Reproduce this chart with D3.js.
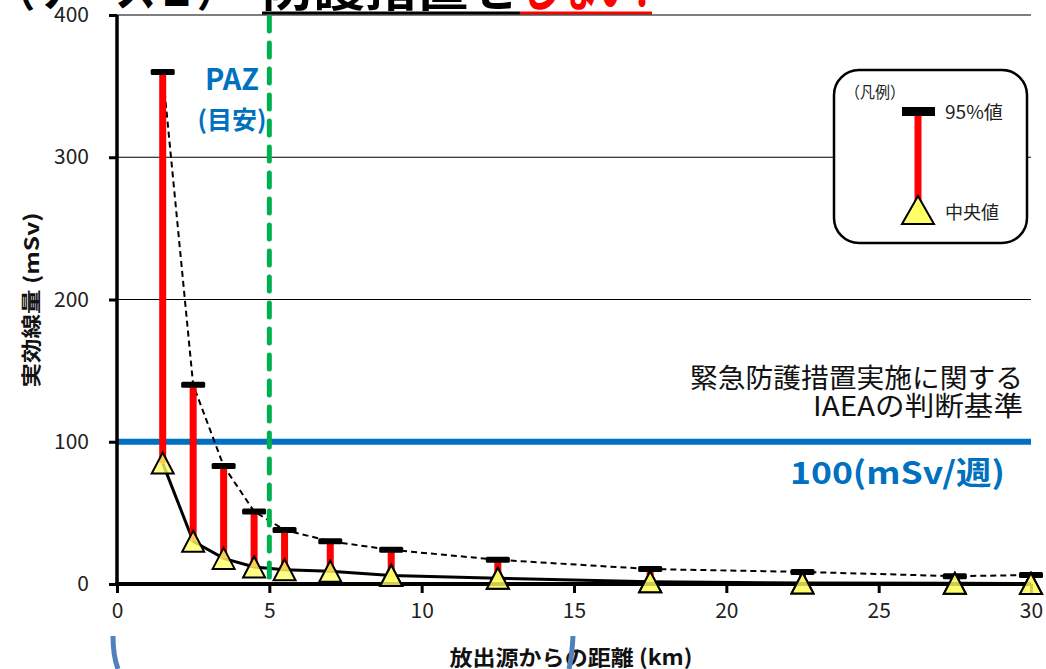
<!DOCTYPE html>
<html>
<head>
<meta charset="utf-8">
<script src="https://cdn.jsdelivr.net/npm/d3@7"></script>
<style>
  html, body { margin: 0; padding: 0; background: #fff; }
  svg { display: block; }
  text { font-family: "Noto Sans CJK JP", "Noto Sans", sans-serif; }
</style>
</head>
<body>
<svg id="chart" width="1046" height="669"></svg>
<script>
// ---- data ----
const distances = [1.5, 2.5, 3.5, 4.5, 5.5, 7, 9, 12.5, 17.5, 22.5, 27.5, 30];
const medianValues = [85, 30, 18, 12, 10, 9, 6, 4, 1.5, 0.7, 0.5, 0.4];
const p95Values = [360, 140, 83, 51, 38, 30, 24, 17, 10.5, 8.5, 5.5, 6.3];
const xTicks = [0, 5, 10, 15, 20, 25, 30];
const yTicks = [0, 100, 200, 300, 400];
const criterion = 100;
const pazDistance = 5;

const data = distances.map((d, i) => ({ x: d, med: medianValues[i], p95: p95Values[i] }));

const svg = d3.select("#chart");
const x = d3.scaleLinear().domain([0, 30]).range([117, 1031]);
const y = d3.scaleLinear().domain([0, 400]).range([584, 15]);

// ---- title (cut off at top) ----
const title = svg.append("g");
title.append("text").attr("x", -6).attr("y", 6).attr("font-size", 50).attr("font-weight", 700)
  .attr("textLength", 244).attr("lengthAdjust", "spacingAndGlyphs").attr("fill", "#000").text("（ケース１）");
title.append("text").attr("x", 262).attr("y", 6).attr("font-size", 50).attr("font-weight", 700)
  .attr("textLength", 258).attr("lengthAdjust", "spacingAndGlyphs").attr("fill", "#000").text("防護措置を");
title.append("text").attr("x", 521).attr("y", 6).attr("font-size", 50).attr("font-weight", 700)
  .attr("textLength", 128).attr("lengthAdjust", "spacingAndGlyphs").attr("fill", "#FF0000").text("しない!");
title.append("rect").attr("x", 262).attr("y", 11.5).attr("width", 258).attr("height", 3).attr("fill", "#000");
title.append("rect").attr("x", 520).attr("y", 11.5).attr("width", 132).attr("height", 3).attr("fill", "#FF0000");

// ---- gridlines ----
svg.append("g").selectAll("line").data(yTicks.filter(t => t > 0)).join("line")
  .attr("x1", x(0)).attr("x2", x(30)).attr("y1", d => y(d)).attr("y2", d => y(d))
  .attr("stroke", "#000").attr("stroke-width", 1.2);

// ---- criterion line ----
svg.append("line").attr("x1", x(0)).attr("x2", x(30)).attr("y1", y(criterion)).attr("y2", y(criterion))
  .attr("stroke", "#0070C0").attr("stroke-width", 6);

// ---- lines ----
svg.append("path").datum(data)
  .attr("d", d3.line().x(d => x(d.x)).y(d => y(d.p95)))
  .attr("fill", "none").attr("stroke", "#000").attr("stroke-width", 2).attr("stroke-dasharray", "6,4");
svg.append("path").datum(data)
  .attr("d", d3.line().x(d => x(d.x)).y(d => y(d.med)))
  .attr("fill", "none").attr("stroke", "#000").attr("stroke-width", 3);

// ---- red range bars ----
svg.append("g").selectAll("line").data(data).join("line")
  .attr("x1", d => x(d.x)).attr("x2", d => x(d.x))
  .attr("y1", d => y(d.med)).attr("y2", d => y(d.p95))
  .attr("stroke", "#FF0000").attr("stroke-width", 7);

// ---- caps ----
svg.append("g").selectAll("rect").data(data).join("rect")
  .attr("x", d => x(d.x) - 12).attr("y", d => y(d.p95) - 3)
  .attr("width", 24).attr("height", 6).attr("rx", 1.5).attr("fill", "#000");

// ---- green PAZ dashed line ----
svg.append("line").attr("x1", x(pazDistance)).attr("x2", x(pazDistance)).attr("y1", y(400) + 2).attr("y2", y(0))
  .attr("stroke", "#00B050").attr("stroke-width", 5).attr("stroke-dasharray", "14,12").attr("stroke-linecap", "round");

// ---- median triangles ----
const tri = (cx, cy, w, h) => `M${cx},${cy - h / 2}L${cx + w / 2},${cy + h / 2}L${cx - w / 2},${cy + h / 2}Z`;
svg.append("g").selectAll("path").data(data).join("path")
  .attr("d", d => tri(x(d.x), y(d.med), 22, 21))
  .attr("fill", "#FFFF66").attr("fill-opacity", 0.8)
  .attr("stroke", "#000").attr("stroke-width", 2).attr("stroke-linejoin", "miter");

// ---- axes ----
const yAxis = svg.append("g").attr("transform", `translate(${x(0)},0)`)
  .call(d3.axisLeft(y).tickValues(yTicks).tickSize(8).tickPadding(20));
yAxis.select(".domain").remove();
yAxis.selectAll(".tick line").attr("stroke", "#000").attr("stroke-width", 3);
yAxis.selectAll(".tick text").attr("font-size", 21).attr("fill", "#222")
  .attr("font-family", "'Noto Sans', sans-serif");
svg.append("line").attr("x1", x(0)).attr("x2", x(0)).attr("y1", y(400)).attr("y2", y(0) + 2)
  .attr("stroke", "#000").attr("stroke-width", 3.5);

const xAxis = svg.append("g").attr("transform", `translate(0,${y(0)})`)
  .call(d3.axisBottom(x).tickValues(xTicks).tickSize(9).tickPadding(10));
xAxis.select(".domain").remove();
xAxis.selectAll(".tick line").attr("stroke", "#000").attr("stroke-width", 3);
xAxis.selectAll(".tick text").attr("font-size", 21).attr("fill", "#222")
  .attr("font-family", "'Noto Sans', sans-serif");
svg.append("line").attr("x1", x(0) - 2).attr("x2", x(30)).attr("y1", y(0)).attr("y2", y(0))
  .attr("stroke", "#000").attr("stroke-width", 4);

// re-draw triangles above axis line near zero
svg.append("g").selectAll("path").data(data.filter(d => d.med < 8)).join("path")
  .attr("d", d => tri(x(d.x), y(d.med), 22, 21))
  .attr("fill", "#FFFF66").attr("fill-opacity", 0.8)
  .attr("stroke", "#000").attr("stroke-width", 2);

// ---- axis titles ----
svg.append("text").attr("x", 571).attr("y", 665).attr("text-anchor", "middle")
  .attr("font-size", 21).attr("font-weight", 700).attr("fill", "#111")
  .attr("textLength", 243).attr("lengthAdjust", "spacingAndGlyphs").text("放出源からの距離 (km)");
svg.append("text").attr("transform", "translate(39,300) rotate(-90)").attr("text-anchor", "middle")
  .attr("font-size", 20).attr("font-weight", 700).attr("fill", "#111")
  .attr("textLength", 175).attr("lengthAdjust", "spacingAndGlyphs").text("実効線量 (mSv)");

// ---- PAZ label ----
svg.append("text").attr("x", 232).attr("y", 90).attr("text-anchor", "middle")
  .attr("font-size", 29).attr("font-weight", 700).attr("fill", "#0070C0").text("PAZ");
svg.append("text").attr("x", 232).attr("y", 129).attr("text-anchor", "middle")
  .attr("font-size", 25).attr("font-weight", 700).attr("fill", "#0070C0").text("(目安)");

// ---- criterion labels ----
svg.append("text").attr("x", 1023).attr("y", 388).attr("text-anchor", "end")
  .attr("font-size", 27).attr("fill", "#111")
  .attr("textLength", 333).attr("lengthAdjust", "spacingAndGlyphs").text("緊急防護措置実施に関する");
svg.append("text").attr("x", 1023).attr("y", 416).attr("text-anchor", "end")
  .attr("font-size", 27).attr("fill", "#111")
  .attr("textLength", 210).attr("lengthAdjust", "spacingAndGlyphs").text("IAEAの判断基準");
svg.append("text").attr("x", 1005).attr("y", 484).attr("text-anchor", "end")
  .attr("font-size", 31).attr("font-weight", 700).attr("fill", "#0070C0")
  .attr("textLength", 215).attr("lengthAdjust", "spacingAndGlyphs").text("100(mSv/週)");

// ---- legend ----
const lg = svg.append("g");
lg.append("rect").attr("x", 834).attr("y", 70).attr("width", 193).attr("height", 173).attr("rx", 25)
  .attr("fill", "#fff").attr("stroke", "#000").attr("stroke-width", 2.5);
lg.append("text").attr("x", 845).attr("y", 98).attr("font-size", 16).attr("fill", "#222")
  .attr("textLength", 60).attr("lengthAdjust", "spacingAndGlyphs").text("（凡例）");
lg.append("line").attr("x1", 918).attr("x2", 918).attr("y1", 114).attr("y2", 205)
  .attr("stroke", "#FF0000").attr("stroke-width", 7);
lg.append("rect").attr("x", 902).attr("y", 107).attr("width", 33).attr("height", 9).attr("fill", "#000");
lg.append("path").attr("d", tri(918, 210, 32, 28)).attr("fill", "#FFFF66")
  .attr("stroke", "#000").attr("stroke-width", 2);
lg.append("text").attr("x", 945).attr("y", 119).attr("font-size", 18).attr("fill", "#222")
  .attr("textLength", 58).attr("lengthAdjust", "spacingAndGlyphs").text("95%値");
lg.append("text").attr("x", 945).attr("y", 219).attr("font-size", 18).attr("fill", "#222")
  .attr("textLength", 54).attr("lengthAdjust", "spacingAndGlyphs").text("中央値");

// ---- partial blue brackets at bottom ----
svg.append("path").attr("d", "M113,636 Q113,656 118,669").attr("fill", "none")
  .attr("stroke", "#4F81BD").attr("stroke-width", 5);
svg.append("path").attr("d", "M573,636 Q572,656 569,669").attr("fill", "none")
  .attr("stroke", "#4F81BD").attr("stroke-width", 5);
</script>
</body>
</html>
